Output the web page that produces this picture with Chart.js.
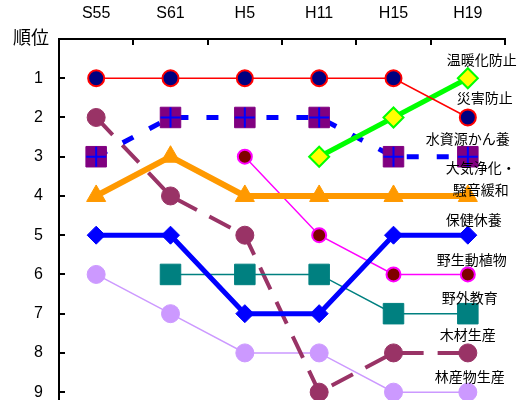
<!DOCTYPE html>
<html>
<head>
<meta charset="utf-8">
<script src="https://cdn.jsdelivr.net/npm/chart.js@4.4.0/dist/chart.umd.min.js"></script>
<style>
  html, body { margin: 0; padding: 0; background: #fff; }
  #wrap { width: 520px; height: 400px; position: relative; }
</style>
</head>
<body>
<div id="wrap"><canvas id="rankChart"></canvas></div>
<script>
/* ── data ─────────────────────────────────────── */

const PERIODS = ['S55', 'S61', 'H5', 'H11', 'H15', 'H19'];
const RANKS   = [1, 2, 3, 4, 5, 6, 7, 8, 9];

const disaster       = [1, 1, 1, 1, 1, 2];
const warming        = [null, null, null, 3, 2, 1];
const waterRecharge  = [3, 2, 2, 2, 3, 3];
const airNoise       = [4, 3, 4, 4, 4, 4];
const recreation     = [5, 5, 7, 7, 5, 5];
const wildlife       = [null, null, 3, 5, 6, 6];
const outdoorEdu     = [null, 6, 6, 6, 7, 7];
const timber         = [2, 4, 5, 9, 8, 8];
const forestProducts = [6, 7, 8, 8, 9, 9];

const NAMES = [
  ['災害防止'], ['温暖化防止'], ['水資源かん養'], ['大気浄化・', '騒音緩和'],
  ['保健休養'], ['野生動植物'], ['野外教育'], ['木材生産'], ['林産物生産']
];

/* ── label placement (px from the H19 point) ─── */

const NAME_OFFSETS = [
  { dx: 17, dy: [-20] }, { dx: 14, dy: [-19] }, { dx: 0, dy: [-18] },
  { dx: 13, dy: [-28, -6] }, { dx: 6, dy: [-16] }, { dx: 4, dy: [-15] },
  { dx: 2, dy: [-16] }, { dx: 0, dy: [-18] }, { dx: 2, dy: [-15] }
];

const TXT = '"Liberation Sans", Arial, sans-serif';
const JP  = '"Noto Sans CJK JP", sans-serif';

/* ── helpers ──────────────────────────────────── */

function series(label, data, s) {
  return {
    label, data,
    borderColor: s.line,
    borderWidth: s.width,
    borderDash: s.dash || [],
    pointStyle: s.style,
    pointRadius: s.r,
    pointBackgroundColor: s.fill,
    pointBorderColor: s.edge || s.fill,
    pointBorderWidth: s.edgeW || 1,
    tension: 0,
    spanGaps: false
  };
}

function noPad(s) {
  s.paddingTop = 0; s.paddingBottom = 0;
  s.paddingLeft = 0; s.paddingRight = 0;
}

const datasets = [
  series('災害防止', disaster, { line: '#FF0000', width: 1.5, style: 'circle', r: 8, fill: '#000080', edge: '#FF0000', edgeW: 2 }),
  series('温暖化防止', warming, { line: '#00FF00', width: 5, style: 'rectRot', r: 10, fill: '#FFFF00', edge: '#00FF00', edgeW: 2 }),
  series('水資源かん養', waterRecharge, { line: '#0000FF', width: 5, dash: [12, 18], style: 'rect', r: 14.5, fill: '#800080' }),
  series('大気浄化・騒音緩和', airNoise, { line: '#FF9900', width: 6, style: 'triangle', r: 11, fill: '#FF9900' }),
  series('保健休養', recreation, { line: '#0000FF', width: 5, style: 'rectRot', r: 9, fill: '#0000FF' }),
  series('野生動植物', wildlife, { line: '#FF00FF', width: 1.5, style: 'circle', r: 7, fill: '#800000', edge: '#FF00FF', edgeW: 2 }),
  series('野外教育', outdoorEdu, { line: '#008080', width: 1.5, style: 'rect', r: 14.5, fill: '#008080' }),
  series('木材生産', timber, { line: '#993366', width: 4, dash: [24, 14], style: 'circle', r: 9, fill: '#993366' }),
  series('林産物生産', forestProducts, { line: '#CC99FF', width: 1.5, style: 'circle', r: 9, fill: '#CC99FF' })
];

// blue "+" drawn over the purple squares of 水資源かん養
datasets.push({
  label: 'cross', data: waterRecharge, showLine: false, order: -1,
  pointStyle: 'cross', pointRadius: 10, pointBorderColor: '#0000FF',
  pointBorderWidth: 2, pointBackgroundColor: '#0000FF'
});

/* ── axis ticks, titles and series names ─────── */

const decor = {
  id: 'decor',
  afterDraw(chart) {
    const { ctx, chartArea: a, scales: { x, y } } = chart;
    ctx.save();
    ctx.strokeStyle = '#000';
    ctx.lineWidth = 2;
    ctx.beginPath();
    RANKS.forEach(v => {
      const py = Math.round(y.getPixelForValue(v));
      ctx.moveTo(a.left, py);
      ctx.lineTo(a.left + 6, py);
    });
    for (let i = 1; i <= PERIODS.length; i++) {
      const px = Math.round(x.getPixelForValue(i - 0.5));
      ctx.moveTo(px, a.top);
      ctx.lineTo(px, a.top + 6);
    }
    ctx.stroke();

    ctx.fillStyle = '#000';
    ctx.textAlign = 'center';
    ctx.textBaseline = 'middle';
    ctx.font = '18px ' + JP;
    ctx.fillText('順位', 31, 37);

    ctx.font = '14px ' + JP;
    NAMES.forEach((lines, i) => {
      const pts = chart.getDatasetMeta(i).data;
      const last = pts[pts.length - 1];
      const off = NAME_OFFSETS[i];
      lines.forEach((t, k) => ctx.fillText(t, last.x + off.dx, last.y + off.dy[k]));
    });
    ctx.restore();
  }
};

/* ── chart ────────────────────────────────────── */

new Chart(document.getElementById('rankChart'), {
  type: 'line',
  data: { labels: PERIODS, datasets },
  options: {
    responsive: true,
    maintainAspectRatio: false,
    animation: false,
    events: [],
    layout: { autoPadding: false, padding: { top: 0, right: 15, bottom: 0, left: 0 } },
    plugins: { legend: { display: false }, tooltip: { enabled: false } },
    scales: {
      x: {
        type: 'category',
        position: 'top',
        offset: true,
        grid: { display: false, drawTicks: false, offset: true },
        border: { display: true, color: '#000', width: 2 },
        ticks: { color: '#000', padding: 16, font: { family: TXT, size: 16, lineHeight: 1.2 } },
        afterFit: s => { s.height = 39; noPad(s); }
      },
      y: {
        type: 'linear',
        reverse: true,
        min: 0,
        max: 9.2,
        grid: { display: false, drawTicks: false },
        border: { display: true, color: '#000', width: 2 },
        ticks: {
          stepSize: 1,
          includeBounds: false,
          color: '#000',
          padding: 16,
          font: { family: TXT, size: 16 },
          callback: v => (v >= 1 && v <= 9 ? v : '')
        },
        afterFit: s => { s.width = 59; noPad(s); }
      }
    }
  },
  plugins: [decor]
});
</script>
</body>
</html>
